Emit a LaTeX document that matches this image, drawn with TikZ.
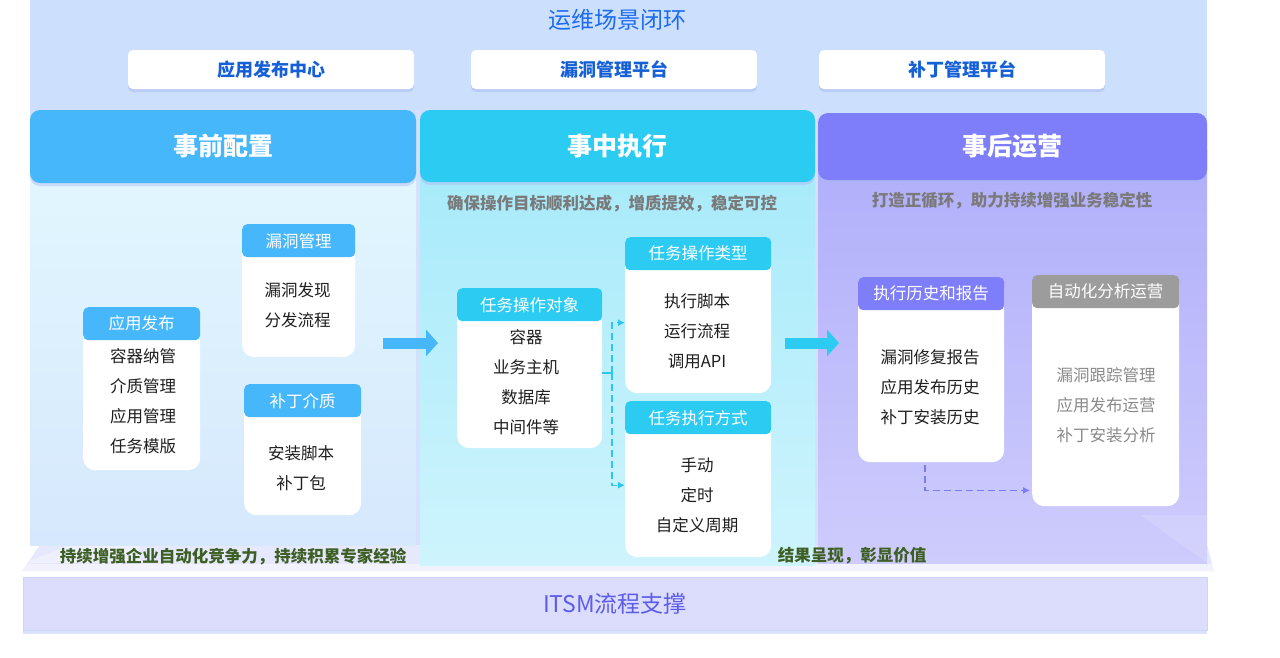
\documentclass[tikz,border=0pt]{standalone}
\usepackage{fontspec}
\setmainfont{Noto Sans CJK SC}
\usetikzlibrary{arrows.meta,shadows}
\definecolor{topbg}{HTML}{CCE0FD}
\definecolor{gapbg}{HTML}{D6E0FD}
\definecolor{titleblue}{HTML}{1D6CF0}
\definecolor{topblue}{HTML}{1560D6}
\definecolor{hleft}{HTML}{47B7FB}
\definecolor{hmid}{HTML}{2CCBF2}
\definecolor{hright}{HTML}{7E7EFA}
\definecolor{hgray}{HTML}{9C9C9C}
\definecolor{subgray}{HTML}{7A7A7A}
\definecolor{itemgray}{HTML}{8A8A8A}
\definecolor{greentxt}{HTML}{3E5F23}
\definecolor{itsmtxt}{HTML}{5C5CE8}
\definecolor{itsmfill}{HTML}{DCDCFD}
\definecolor{itsmline}{HTML}{CCD6FB}
\definecolor{bandc}{HTML}{E6E8FE}
\definecolor{shadowc}{HTML}{A9B8F5}
\definecolor{dashmid}{HTML}{2EC6EF}
\definecolor{dashright}{HTML}{7B7BF0}
\tikzset{
  hdr/.style={rounded corners=10pt, text=white, inner sep=0pt,
    font=\fontsize{25}{30}\selectfont\bfseries,
    drop shadow={fill=shadowc, opacity=0.45, shadow xshift=0pt, shadow yshift=-3pt}},
  topbox/.style={fill=white, rounded corners=5pt, minimum width=286, minimum height=39,
    text=topblue, font=\fontsize{18}{20}\selectfont\bfseries, inner sep=0pt,
    drop shadow={fill=shadowc, opacity=0.5, shadow xshift=0pt, shadow yshift=-3pt}},
  cbody/.style={fill=white, rounded corners=12pt, anchor=north west, inner sep=0pt},
  chead/.style={rounded corners=5pt, anchor=north west, inner sep=0pt, text=white,
    font=\fontsize{16.5}{20}\selectfont, minimum height=33},
  items/.style={align=center, font=\fontsize{16.5}{30}\selectfont, text=black!88, inner sep=0pt},
  fatarrow/.style={line width=11pt, -{Triangle[length=12pt,width=26pt]}},
  dashconn/.style={line width=1.3pt, dash pattern=on 7pt off 4pt, -{Latex[length=7pt,width=7pt]}},
  subtxt/.style={text=subgray, font=\fontsize{16.5}{20}\selectfont\bfseries},
  greentext/.style={text=greentxt, font=\fontsize{16.5}{20}\selectfont\bfseries},
}
\begin{document}
\begin{tikzpicture}[x=1pt,y=-1pt]
\useasboundingbox (0,0) rectangle (1280,657);
\fill[white] (0,0) rectangle (1280,657);

% backgrounds
\fill[topbg] (30,0) rectangle (1207,545);
\fill[gapbg] (416,110) rectangle (420,565);
\fill[gapbg] (815,110) rectangle (818,565);
\fill[bandc] (22,571) -- (40,545) -- (1207,545) -- (1214,571) -- cycle;
\fill[white,opacity=0.45] (22,571) -- (1214,571) -- (1214,564) -- (22,564) -- cycle;
\fill[white,opacity=0.35] (24,563) -- (140,518) -- (140,563) -- cycle;

% panel bodies
\shade[top color={rgb,255:red,226;green,247;blue,254}, bottom color={rgb,255:red,214;green,232;blue,253}] (30,150) rectangle (416,545);
\shade[top color={rgb,255:red,166;green,234;blue,250}, bottom color={rgb,255:red,206;green,244;blue,253}] (420,150) rectangle (815,565);
\shade[top color={rgb,255:red,176;green,174;blue,250}, bottom color={rgb,255:red,206;green,204;blue,252}] (818,150) rectangle (1207,563);
\fill[white,opacity=0.12] (1140,515) -- (1207,515) -- (1207,563) -- cycle;

% title
\node[text=titleblue, font=\fontsize{23}{26}\selectfont, inner sep=0pt] (title) at (617,20) {运维场景闭环};

% top boxes
\node[topbox] (tb1) at (271,69.5) {应用发布中心};
\node[topbox] (tb2) at (614,69.5) {漏洞管理平台};
\node[topbox] (tb3) at (962,69.5) {补丁管理平台};

% panel headers
\node[hdr, fill=hleft, minimum width=386, minimum height=73] (ph1) at (223,146.5) {事前配置};
\node[hdr, fill=hmid, minimum width=395, minimum height=72] (ph2) at (617.5,146) {事中执行};
\node[hdr, fill=hright, minimum width=389, minimum height=67] (ph3) at (1012.5,146.5) {事后运营};

% subtitles
\node[subtxt] (st2) at (612,204) {确保操作目标顺利达成，增质提效，稳定可控};
\node[subtxt] (st3) at (1012,201) {打造正循环，助力持续增强业务稳定性};

% ---- left cards
\node[cbody, minimum width=117, minimum height=163] (lb1) at (83,307) {};
\node[chead, fill=hleft, minimum width=117] (lh1) at (83,307) {应用发布};
\node[items] (li1) at (143,401.5) {容器纳管\\介质管理\\应用管理\\任务模版};

\node[cbody, minimum width=113, minimum height=133] (lb2) at (242,224) {};
\node[chead, fill=hleft, minimum width=113] (lh2) at (242,224) {漏洞管理};
\node[items] (li2) at (297.5,305) {漏洞发现\\分发流程};

\node[cbody, minimum width=117, minimum height=131] (lb3) at (244,384) {};
\node[chead, fill=hleft, minimum width=117] (lh3) at (244,384) {补丁介质};
\node[items] (li3) at (301,468) {安装脚本\\补丁包};

% ---- middle cards
\node[cbody, minimum width=145, minimum height=160] (mb1) at (457,288) {};
\node[chead, fill=hmid, minimum width=145] (mh1) at (457,288) {任务操作对象};
\node[items] (mi1) at (526,382) {容器\\业务主机\\数据库\\中间件等};

\node[cbody, minimum width=146, minimum height=156] (mb2) at (625,237) {};
\node[chead, fill=hmid, minimum width=146] (mh2) at (625,237) {任务操作类型};
\node[items] (mi2) at (697,331.5) {执行脚本\\运行流程\\调用API};

\node[cbody, minimum width=146, minimum height=156] (mb3) at (625,401) {};
\node[chead, fill=hmid, minimum width=146] (mh3) at (625,401) {任务执行方式};
\node[items] (mi3) at (697,495) {手动\\定时\\自定义周期};

% ---- right cards
\node[cbody, minimum width=146, minimum height=185] (rb1) at (858,277) {};
\node[chead, fill=hright, minimum width=146] (rh1) at (858,277) {执行历史和报告};
\node[items] (ri1) at (930,387) {漏洞修复报告\\应用发布历史\\补丁安装历史};

\node[cbody, minimum width=147, minimum height=231] (rb2) at (1032,275) {};
\node[chead, fill=hgray, minimum width=147] (rh2) at (1032,275) {自动化分析运营};
\node[items, text=itemgray] (ri2) at (1106,405) {漏洞跟踪管理\\应用发布运营\\补丁安装分析};

% fat arrows
\coordinate (a1s) at (383,343);
\coordinate (a1e) at (438,343);
\draw[fatarrow, hleft] (a1s) -- (a1e);
\coordinate (a2s) at (785,343);
\coordinate (a2e) at (839,343);
\draw[fatarrow, hmid] (a2s) -- (a2e);

% middle dashed connectors
\coordinate (j1) at (612,373);
\draw[dashmid, line width=1.3pt] (mb1.east |- j1) -- (j1);
\draw[dashconn, dashmid] (j1) |- ([yshift=-7.5pt]mh2.south west |- mb2.west);
\draw[dashconn, dashmid] (j1) |- ([yshift=-6pt]mb3.west);

% right dashed connector
\coordinate (j2) at (925,465);
\draw[dashconn, dashright] (j2) |- ([xshift=-2pt,yshift=16pt]rb2.west |- rb2.south);

% bottom texts
\node[greentext] (g1) at (233,557) {持续增强企业自动化竞争力，持续积累专家经验};
\node[greentext] (g2) at (852,556) {结果呈现，彰显价值};

% ITSM bar
\node[fill=itsmfill, draw=itsmline, line width=0.8pt, minimum width=1184, minimum height=53, inner sep=0pt,
  text=itsmtxt, font=\fontsize{23}{25}\selectfont,
  drop shadow={fill=shadowc, opacity=0.4, shadow xshift=0pt, shadow yshift=-4pt}] (itsm) at (615,603.5) {ITSM流程支撑};
\end{tikzpicture}
\end{document}
